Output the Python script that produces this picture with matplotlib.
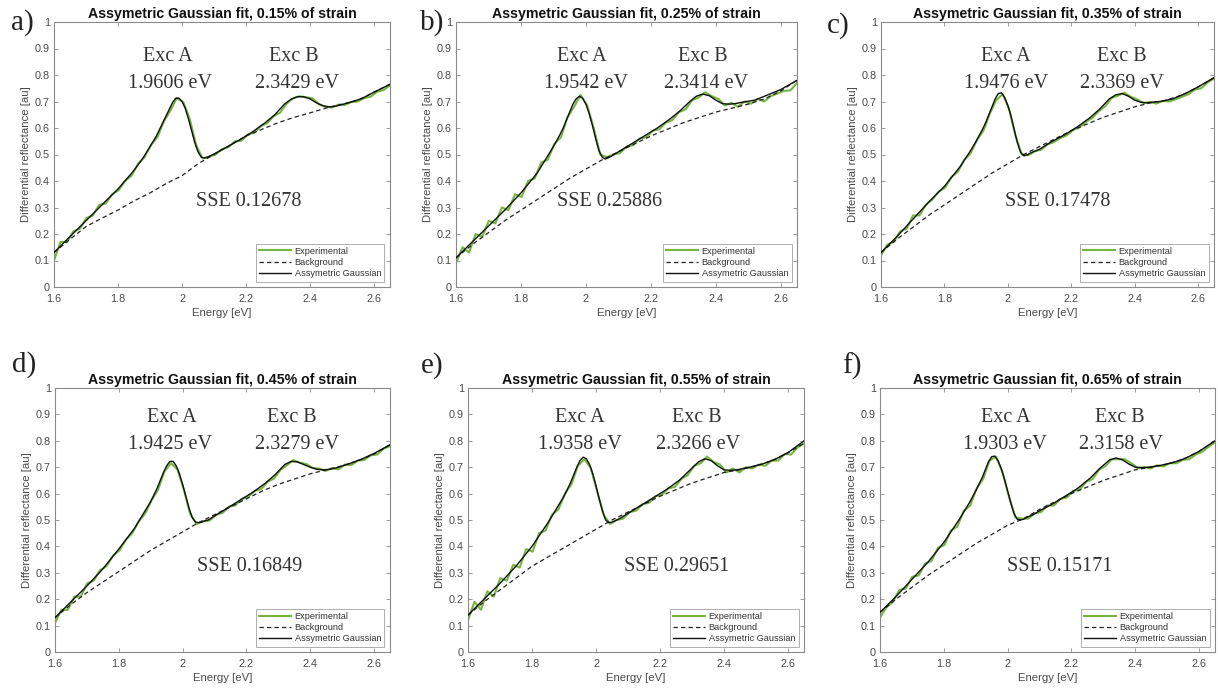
import numpy as np
import matplotlib
matplotlib.use("Agg")
import matplotlib.pyplot as plt

# ---------------- data ----------------
strains = ["0.15", "0.25", "0.35", "0.45", "0.55", "0.65"]
panel_letters = ["a)", "b)", "c)", "d)", "e)", "f)"]
exc_a = ["1.9606", "1.9542", "1.9476", "1.9425", "1.9358", "1.9303"]
exc_b = ["2.3429", "2.3414", "2.3369", "2.3279", "2.3266", "2.3158"]
sse = ["0.12678", "0.25886", "0.17478", "0.16849", "0.29651", "0.15171"]

# Energy sampling of the fitted curves [eV] (denser around the A exciton)
fit_x = [1.60, 1.65, 1.70, 1.75, 1.80, 1.85, 1.88, 1.90, 1.92, 1.93,
         1.94, 1.95, 1.96, 1.97, 1.98, 1.99, 2.00, 2.01, 2.02, 2.03,
         2.04, 2.05, 2.06, 2.07, 2.08, 2.10, 2.14, 2.18, 2.22, 2.26,
         2.29, 2.32, 2.34, 2.36, 2.38, 2.40, 2.42, 2.44, 2.46, 2.48,
         2.52, 2.56, 2.60, 2.65]

# Asymmetric Gaussian fit values at fit_x
fit_a = [0.13, 0.19, 0.25, 0.31, 0.37, 0.44, 0.49, 0.53, 0.57, 0.595,
         0.62, 0.645, 0.67, 0.695, 0.712, 0.713, 0.70, 0.675, 0.635, 0.59,
         0.545, 0.51, 0.49, 0.487, 0.49, 0.502, 0.528, 0.555, 0.585, 0.62,
         0.65, 0.69, 0.708, 0.718, 0.718, 0.71, 0.695, 0.684, 0.68, 0.682,
         0.695, 0.71, 0.735, 0.765]
fit_b = [0.11, 0.17, 0.23, 0.29, 0.355, 0.43, 0.49, 0.53, 0.575, 0.60,
         0.63, 0.66, 0.69, 0.71, 0.72, 0.712, 0.69, 0.655, 0.61, 0.56,
         0.515, 0.49, 0.483, 0.488, 0.495, 0.51, 0.54, 0.57, 0.60, 0.635,
         0.665, 0.70, 0.72, 0.728, 0.722, 0.705, 0.692, 0.69, 0.692, 0.697,
         0.705, 0.725, 0.745, 0.78]
fit_c = [0.13, 0.19, 0.255, 0.32, 0.38, 0.455, 0.51, 0.55, 0.595, 0.62,
         0.65, 0.68, 0.71, 0.73, 0.733, 0.715, 0.685, 0.645, 0.595, 0.545,
         0.508, 0.495, 0.498, 0.505, 0.51, 0.52, 0.55, 0.575, 0.605, 0.64,
         0.672, 0.71, 0.725, 0.73, 0.72, 0.705, 0.697, 0.695, 0.698, 0.70,
         0.71, 0.73, 0.755, 0.79]
fit_d = [0.13, 0.19, 0.25, 0.315, 0.39, 0.47, 0.53, 0.57, 0.62, 0.65,
         0.68, 0.705, 0.722, 0.722, 0.705, 0.675, 0.635, 0.59, 0.545, 0.51,
         0.492, 0.49, 0.492, 0.497, 0.50, 0.515, 0.545, 0.575, 0.605, 0.64,
         0.672, 0.71, 0.722, 0.72, 0.71, 0.70, 0.692, 0.69, 0.692, 0.697,
         0.712, 0.73, 0.752, 0.785]
fit_e = [0.14, 0.20, 0.26, 0.325, 0.40, 0.49, 0.55, 0.59, 0.64, 0.67,
         0.70, 0.725, 0.738, 0.732, 0.71, 0.675, 0.63, 0.58, 0.535, 0.50,
         0.49, 0.492, 0.497, 0.503, 0.51, 0.525, 0.555, 0.585, 0.615, 0.65,
         0.685, 0.72, 0.732, 0.725, 0.705, 0.69, 0.688, 0.69, 0.695, 0.70,
         0.712, 0.73, 0.755, 0.80]
fit_f = [0.15, 0.21, 0.275, 0.34, 0.415, 0.505, 0.565, 0.61, 0.66, 0.69,
         0.72, 0.74, 0.742, 0.725, 0.695, 0.655, 0.61, 0.565, 0.525, 0.503,
         0.50, 0.503, 0.51, 0.515, 0.52, 0.535, 0.56, 0.59, 0.62, 0.66,
         0.697, 0.728, 0.735, 0.728, 0.712, 0.70, 0.698, 0.70, 0.703, 0.707,
         0.718, 0.735, 0.76, 0.80]

# Experimental (noisy) curves, sampled uniformly from 1.60 to 2.65 eV
e_start, e_end = 1.60, 2.65
exp_a = [0.10, 0.17, 0.17, 0.21, 0.22, 0.26, 0.27, 0.31, 0.315, 0.35, 0.365, 0.40, 0.42, 0.465, 0.49,
         0.535, 0.565, 0.625, 0.665, 0.713, 0.698, 0.635, 0.535, 0.485, 0.492, 0.50, 0.52, 0.528, 0.55,
         0.552, 0.575, 0.582, 0.607, 0.618, 0.645, 0.658, 0.692, 0.712, 0.72, 0.716, 0.712, 0.69, 0.68,
         0.677, 0.688, 0.687, 0.698, 0.70, 0.713, 0.718, 0.737, 0.743, 0.762]
exp_b = [0.09, 0.15, 0.13, 0.20, 0.19, 0.25, 0.24, 0.30, 0.29, 0.35, 0.34, 0.40, 0.41, 0.47, 0.48,
         0.54, 0.565, 0.64, 0.68, 0.725, 0.685, 0.60, 0.50, 0.49, 0.50, 0.505, 0.53, 0.535, 0.56, 0.565,
         0.59, 0.595, 0.62, 0.63, 0.66, 0.67, 0.705, 0.715, 0.735, 0.72, 0.71, 0.685, 0.695, 0.68, 0.70,
         0.692, 0.71, 0.70, 0.72, 0.73, 0.74, 0.742, 0.77]
exp_c = [0.12, 0.16, 0.17, 0.21, 0.22, 0.27, 0.27, 0.31, 0.33, 0.36, 0.375, 0.415, 0.435, 0.48, 0.505,
         0.555, 0.59, 0.655, 0.705, 0.728, 0.672, 0.57, 0.50, 0.497, 0.512, 0.518, 0.538, 0.547, 0.562,
         0.572, 0.593, 0.602, 0.623, 0.638, 0.663, 0.682, 0.713, 0.722, 0.733, 0.718, 0.708, 0.694,
         0.698, 0.692, 0.702, 0.70, 0.708, 0.718, 0.727, 0.745, 0.75, 0.772, 0.786]
exp_d = [0.11, 0.16, 0.16, 0.21, 0.21, 0.26, 0.27, 0.31, 0.325, 0.365, 0.385, 0.425, 0.45, 0.495, 0.525,
         0.575, 0.615, 0.685, 0.715, 0.692, 0.615, 0.522, 0.485, 0.495, 0.498, 0.52, 0.527, 0.55, 0.556,
         0.58, 0.588, 0.61, 0.617, 0.645, 0.657, 0.69, 0.707, 0.727, 0.717, 0.712, 0.697, 0.695, 0.686,
         0.696, 0.692, 0.71, 0.708, 0.725, 0.727, 0.745, 0.748, 0.77, 0.78]
exp_e = [0.12, 0.19, 0.16, 0.23, 0.21, 0.28, 0.27, 0.33, 0.32, 0.39, 0.38, 0.45, 0.46, 0.52, 0.54,
         0.60, 0.635, 0.705, 0.73, 0.697, 0.607, 0.52, 0.485, 0.50, 0.505, 0.53, 0.535, 0.56, 0.565,
         0.59, 0.595, 0.62, 0.625, 0.655, 0.67, 0.705, 0.715, 0.74, 0.72, 0.71, 0.68, 0.695, 0.68, 0.70,
         0.695, 0.71, 0.705, 0.725, 0.725, 0.75, 0.748, 0.775, 0.79]
exp_f = [0.13, 0.17, 0.19, 0.235, 0.24, 0.285, 0.29, 0.335, 0.345, 0.395, 0.405, 0.46, 0.475, 0.535, 0.555,
         0.62, 0.655, 0.725, 0.74, 0.682, 0.59, 0.51, 0.505, 0.505, 0.525, 0.53, 0.555, 0.555, 0.58, 0.585,
         0.61, 0.615, 0.645, 0.655, 0.69, 0.705, 0.73, 0.73, 0.73, 0.715, 0.697, 0.70, 0.695, 0.707,
         0.703, 0.715, 0.715, 0.728, 0.73, 0.748, 0.758, 0.777, 0.795]

# Background (sampled every 0.05 eV from 1.60 to 2.65 eV)
bg_a = [0.13, 0.18, 0.228, 0.26, 0.29, 0.325, 0.355, 0.39, 0.42, 0.465, 0.50, 0.535, 0.57, 0.595, 0.62,
        0.64, 0.657, 0.675, 0.69, 0.705, 0.735, 0.765]
bg_b = [0.11, 0.16, 0.205, 0.25, 0.29, 0.33, 0.37, 0.41, 0.445, 0.48, 0.51, 0.54, 0.57, 0.595, 0.62,
        0.64, 0.66, 0.675, 0.69, 0.71, 0.74, 0.78]
bg_c = [0.13, 0.18, 0.225, 0.27, 0.31, 0.35, 0.39, 0.43, 0.465, 0.50, 0.53, 0.56, 0.59, 0.615, 0.64,
        0.66, 0.68, 0.695, 0.705, 0.725, 0.755, 0.79]
bg_d = [0.13, 0.18, 0.225, 0.265, 0.305, 0.345, 0.385, 0.42, 0.455, 0.49, 0.52, 0.55, 0.58, 0.61, 0.635,
        0.655, 0.675, 0.69, 0.705, 0.725, 0.75, 0.785]
bg_e = [0.14, 0.19, 0.235, 0.28, 0.325, 0.36, 0.395, 0.43, 0.465, 0.50, 0.53, 0.56, 0.59, 0.615, 0.64,
        0.66, 0.68, 0.69, 0.705, 0.725, 0.755, 0.79]
bg_f = [0.15, 0.20, 0.245, 0.29, 0.33, 0.37, 0.41, 0.445, 0.48, 0.505, 0.54, 0.57, 0.60, 0.625, 0.65,
        0.67, 0.69, 0.70, 0.712, 0.73, 0.76, 0.80]

fits = [fit_a, fit_b, fit_c, fit_d, fit_e, fit_f]
exps = [exp_a, exp_b, exp_c, exp_d, exp_e, exp_f]
bgs = [bg_a, bg_b, bg_c, bg_d, bg_e, bg_f]

# ---------------- layout / style ----------------
W, H = 1218, 690
boxes = [(54, 22, 390, 287), (456, 22, 797, 287), (881, 22, 1214, 287),
         (55, 388, 390, 652), (468, 388, 804, 652), (880, 388, 1215, 652)]
letter_pos = [(22, 23), (432, 23), (838, 26), (24, 365), (432, 366), (852, 366)]
ann_x = [(1.956, 1.963, 2.35, 2.359, 2.209),
         (1.988, 2.000, 2.36, 2.370, 2.074),
         (1.995, 1.995, 2.36, 2.36, 2.158),
         (1.967, 1.960, 2.343, 2.358, 2.211),
         (1.950, 1.950, 2.316, 2.319, 2.253),
         (1.995, 1.990, 2.352, 2.355, 2.164)]

green = "#76b53f"
gray_txt = "#4a4a4a"
spine_c = "#8a8a8a"
sans = ["Liberation Sans", "DejaVu Sans"]
serif = ["Liberation Serif", "DejaVu Serif"]

fig = plt.figure(figsize=(W / 100, H / 100), dpi=100)
fig.patch.set_facecolor("white")

for i in range(6):
    l, t, r, b = boxes[i]
    ax = fig.add_axes([l / W, 1 - b / H, (r - l) / W, (b - t) / H])
    fit = fits[i]
    ex = exps[i]
    bg = bgs[i]
    x_exp = np.linspace(e_start, e_end, len(ex))
    x_bg = np.linspace(e_start, e_end, len(bg))

    ax.plot(x_exp, ex, color=green, lw=1.5, label="Experimental", zorder=2)
    ax.plot(x_bg, bg, color="#222222", lw=0.9, ls=(0, (3.5, 2.5)), label="Background", zorder=3)
    ax.plot(fit_x, fit, color="#111111", lw=1.0, label="Assymetric Gaussian", zorder=4)

    ax.set_xlim(1.6, 2.65)
    ax.set_ylim(0, 1)
    ax.set_xticks([1.6, 1.8, 2.0, 2.2, 2.4, 2.6])
    ax.set_xticklabels(["1.6", "1.8", "2", "2.2", "2.4", "2.6"])
    ax.set_yticks(np.round(np.arange(0, 1.01, 0.1), 1))
    ax.set_yticklabels(["0"] + ["%.1f" % v for v in np.arange(0.1, 0.95, 0.1)] + ["1"])
    ax.tick_params(direction="in", length=3, width=0.6, colors=spine_c, labelcolor=gray_txt,
                   labelsize=7.8, top=True, right=True)
    ax.tick_params(axis="x", pad=5)
    ax.tick_params(axis="y", pad=3)
    for lab in ax.get_xticklabels() + ax.get_yticklabels():
        lab.set_family(sans)
    for s in ax.spines.values():
        s.set_color(spine_c)
        s.set_linewidth(0.8)

    ax.set_xlabel("Energy [eV]", fontsize=8.2, color=gray_txt, family=sans, labelpad=3)
    ax.set_ylabel("Differential reflectance [au]", fontsize=8.2, color=gray_txt, family=sans, labelpad=3)
    ax.set_title("Assymetric Gaussian fit, %s%% of strain" % strains[i], fontsize=10.2,
                 fontweight="bold", family=sans, color="#111111", pad=3)

    xa, xav, xb, xbv, xs = ann_x[i]
    y1, y2 = (0.868, 0.768) if i < 3 else (0.888, 0.785)
    tkw = dict(ha="center", va="center", fontsize=14.5, family=serif, color="#333333")
    ax.text(xa, y1, "Exc A", **tkw)
    ax.text(xav, y2, "%s eV" % exc_a[i], **tkw)
    ax.text(xb, y1, "Exc B", **tkw)
    ax.text(xbv, y2, "%s eV" % exc_b[i], **tkw)
    ax.text(xs, 0.322, "SSE %s" % sse[i], **tkw)

    leg = ax.legend(loc="lower right", frameon=True, fancybox=False,
                    handlelength=3.4, handletextpad=0.45, labelspacing=0.25,
                    borderpad=0.35, borderaxespad=0.6, prop={"family": sans, "size": 6.6})
    leg.get_frame().set_edgecolor("#9a9a9a")
    leg.get_frame().set_linewidth(0.7)
    for txt in leg.get_texts():
        txt.set_color("#333333")

    lx, ly = letter_pos[i]
    fig.text(lx / W, 1 - ly / H, panel_letters[i], ha="center", va="center",
             fontsize=21, family=serif, color="#222222")

fig.savefig("out.png", dpi=100, facecolor="white")
